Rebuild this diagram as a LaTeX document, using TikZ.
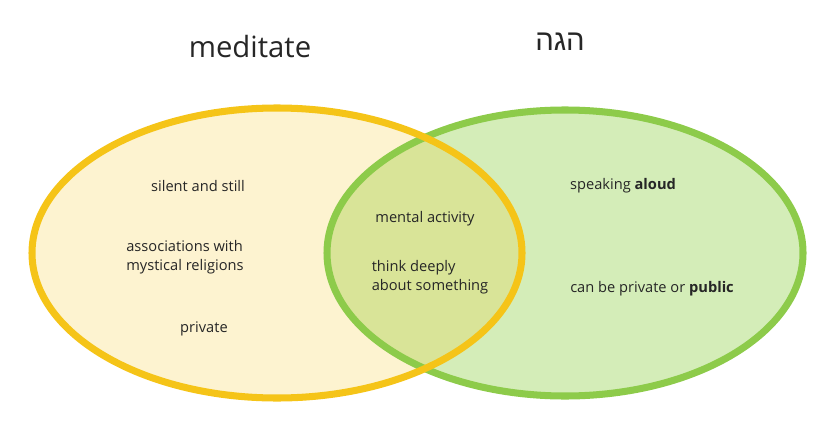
\documentclass[tikz,border=0pt]{standalone}
\usepackage{fontspec}
\setmainfont{Open Sans}
\newfontfamily\hebfont[Script=Hebrew]{Liberation Sans}
\TeXXeTstate=1
\definecolor{yelline}{RGB}{245,196,24}
\definecolor{yelfill}{RGB}{253,243,208}
\definecolor{grnline}{RGB}{141,203,74}
\definecolor{grnfill}{RGB}{212,237,184}
\definecolor{mixfill}{RGB}{217,228,152}
\begin{document}
\begin{tikzpicture}[x=0.03cm, y=-0.03cm,
    lbl/.style={font=\fontsize{12.5}{16}\selectfont, align=left, text=black!85},
    ttl/.style={font=\fontsize{25}{30}\selectfont, text=black!85}
  ]
  \useasboundingbox (0,0) rectangle (825,426);
  % areas
  \fill[yelfill] (277,253) ellipse [x radius=245, y radius=145];
  \fill[grnfill] (565,253) ellipse [x radius=238, y radius=143];
  \begin{scope}
    \clip (277,253) ellipse [x radius=245, y radius=145];
    \fill[mixfill] (565,253) ellipse [x radius=238, y radius=143];
  \end{scope}
  \draw[grnline, line width=6pt] (565,253) ellipse [x radius=238, y radius=143];
  \draw[yelline, line width=6pt] (277,253) ellipse [x radius=245, y radius=145];
  % titles
  \node[ttl] (med) at (250,47) {meditate};
  \node[ttl] (hgh) at (560,42) {\hebfont\beginR הגה\endR};
  % left
  \node[lbl] (silent) at (198,186) {silent and still};
  \node[lbl] (assoc) at (185,257) {associations with\\mystical religions};
  \node[lbl] (priv) at (204,329) {private};
  % middle
  \node[lbl] (mental) at (425,219) {mental activity};
  \node[lbl] (think) at (430,277) {think deeply\\about something};
  % right
  \node[lbl] (aloud) at (623,186) {speaking \textbf{aloud}};
  \node[lbl] (pub) at (652,289) {can be private or \textbf{public}};
\end{tikzpicture}
\end{document}
